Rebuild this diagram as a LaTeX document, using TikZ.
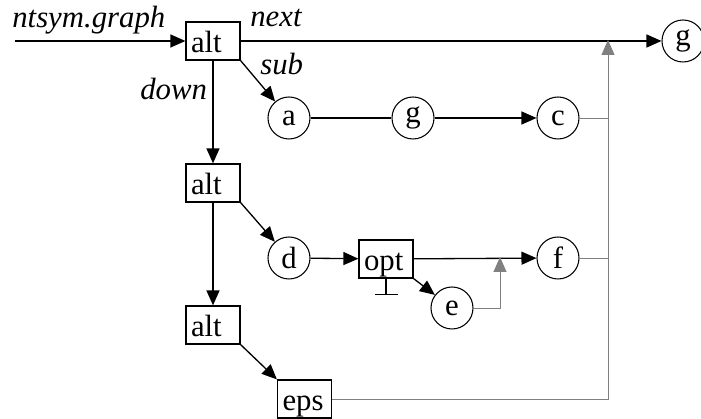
\documentclass[tikz,border=0pt]{standalone}
\usepackage{fontspec}
\setmainfont{Liberation Serif}
\usetikzlibrary{arrows.meta,positioning}

\begin{document}
\begin{tikzpicture}[
  every node/.style={font=\fontsize{17.5}{20}\selectfont},
  box/.style={draw, line width=0.7pt, text width=0.88cm, align=left, inner xsep=0.1cm, inner ysep=0.06cm,
    text height=0.56cm, text depth=0.08cm},
  state/.style={draw, circle, line width=0.6pt, minimum size=0.84cm, inner sep=0pt},
  edge/.style={line width=0.75pt},
  arrow/.style={-{Triangle[length=0.3cm, width=0.26cm]}, line width=0.75pt},
  back/.style={draw=gray, line width=0.55pt},
  backarrow/.style={-{Triangle[length=0.3cm, width=0.26cm]}, draw=gray, line width=0.55pt},
  label/.style={font=\fontsize{17.5}{20}\selectfont\itshape, anchor=base west, inner sep=0pt}
]
\useasboundingbox (0,0) rectangle (14.02,8.38);

% main chain
\node[box] (alt1) at (4.26, 7.56) {alt};
\node[state] (gout) at (13.66, 7.56) {g};
\coordinate (start) at (0.30, 7.56);

% sub graph of first alternative
\node[state] (a) at (5.78, 6.02) {a};
\node[state] (gmid) at (8.26, 6.02) {g};
\node[state] (c) at (11.16, 6.02) {c};

% second alternative
\node[box] (alt2) at (4.26, 4.72) {alt};
\node[state] (d) at (5.78, 3.22) {d};
\node[box] (opt) at (7.72, 3.20) {opt};
\node[state] (e) at (9.04, 2.22) {e};
\node[state] (f) at (11.16, 3.22) {f};

% third alternative
\node[box] (alt3) at (4.26, 1.88) {alt};
\node[box] (eps) at (6.09, 0.40) {eps};

\coordinate (rjoin) at (12.16, 7.58);
\coordinate (ejoin) at (10.0, 3.24);
\coordinate (optgnd) at (7.72, 2.48);

\node[label] (lgraph) at (0.24, 7.82) {ntsym.graph};
\node[label] (lnext) at (5.0, 7.84) {next};
\node[label] (lsub) at (5.2, 6.88) {sub};
\node[label] (ldown) at (2.8, 6.38) {down};

\draw[arrow] (start) -- (alt1);
\draw[arrow] (alt1) -- (gout);
\draw[arrow] (alt1.south east) -- (a);
\draw[arrow] (alt1) -- (alt2);
\draw[edge] (a) -- (gmid);
\draw[arrow] (gmid) -- (c);

\draw[arrow] (alt2.south east) -- (d);
\draw[arrow] (alt2) -- (alt3);
\draw[arrow] (d) -- (opt);
\draw[arrow] (opt) -- (f);
\draw[arrow] (opt.south east) -- (e);
\draw[-{Bar[width=0.46cm]}, line width=0.75pt] (opt.south) -- (optgnd);

\draw[arrow] (alt3.south east) -- (eps.north west);

% back edges to the successor
\draw[back] (c) -- (c -| rjoin);
\draw[back] (f) -- (f -| rjoin);
\draw[backarrow] (eps) -| (rjoin);
\draw[backarrow] (e) -| (ejoin);

\end{tikzpicture}
\end{document}
